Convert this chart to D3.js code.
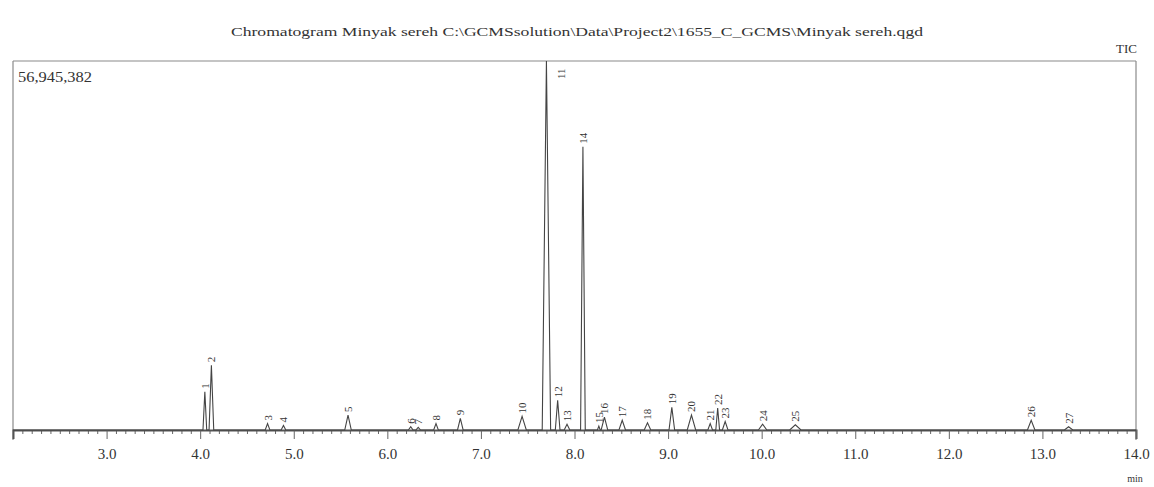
<!DOCTYPE html>
<html><head><meta charset="utf-8">
<script src="https://cdn.jsdelivr.net/npm/d3@7"></script>
<style>body{margin:0;background:#fff}svg{display:block}text{font-family:"Liberation Serif","Times New Roman",serif;fill:#333}</style>
</head><body>
<svg id="c" width="1154" height="487"></svg>
<script>
const titleText = "Chromatogram Minyak sereh C:\\GCMSsolution\\Data\\Project2\\1655_C_GCMS\\Minyak sereh.qgd";
const traceName = "TIC";
const maxIntensity = 56945382;
const timeDomain = [2, 14];
const majorTicks = [3, 4, 5, 6, 7, 8, 9, 10, 11, 12, 13, 14];
const peakIds = [1,2,3,4,5,6,7,8,9,10,11,12,13,14,15,16,17,18,19,20,21,22,23,24,25,26,27];
const retentionTimes = [4.05,4.12,4.72,4.89,5.58,6.25,6.33,6.52,6.78,7.44,7.70,7.82,7.92,8.09,8.26,8.32,8.51,8.78,9.04,9.25,9.45,9.53,9.61,10.01,10.36,12.88,13.28];
// peak heights in millions of counts
const peakHeights = [5.9,10.0,1.0,0.7,2.3,0.5,0.4,1.0,1.8,2.1,56.95,4.6,0.9,43.7,0.6,2.0,1.5,1.1,3.5,2.3,1.0,3.4,1.3,0.9,0.8,1.5,0.5];
// peak base widths in minutes
const peakWidths = [0.04,0.05,0.05,0.05,0.07,0.05,0.05,0.05,0.06,0.09,0.09,0.05,0.06,0.05,0.03,0.07,0.07,0.07,0.06,0.09,0.05,0.04,0.06,0.09,0.12,0.08,0.09];

(function () {
const svg = d3.select("#c");
const pLeft = 13, pRight = 1136, pTop = 61, pBase = 430;
const x = d3.scaleLinear().domain(timeDomain).range([pLeft, pRight]);
const y = d3.scaleLinear().domain([0, maxIntensity / 1e6]).range([pBase, pTop]);

// title
svg.append("text").attr("x", 577).attr("y", 36).attr("text-anchor", "middle")
  .attr("font-size", 13).attr("textLength", 692).attr("lengthAdjust", "spacingAndGlyphs")
  .text(titleText);
svg.append("text").attr("x", 1137).attr("y", 53).attr("text-anchor", "end")
  .attr("font-size", 13).text(traceName);
svg.append("text").attr("x", 18).attr("y", 82).attr("font-size", 15)
  .attr("textLength", 74).attr("lengthAdjust", "spacingAndGlyphs")
  .text(d3.format(",")(maxIntensity));

// frame
const frame = svg.append("g").attr("stroke", "#8a8a8a").attr("fill", "none").attr("stroke-width", 1.2);
frame.append("line").attr("x1", pLeft).attr("x2", pRight).attr("y1", pTop).attr("y2", pTop);
frame.append("line").attr("x1", pLeft).attr("x2", pLeft).attr("y1", pTop).attr("y2", pBase + 10);
frame.append("line").attr("x1", pRight).attr("x2", pRight).attr("y1", pTop).attr("y2", pBase + 10);

// x axis
const minorTicks = d3.range(21, 140).map(d => d / 10).filter(d => Math.abs(d - Math.round(d)) > 1e-6);
svg.append("g").attr("transform", `translate(0,${pBase})`)
  .call(d3.axisBottom(x).tickValues(minorTicks).tickSize(4).tickFormat(""))
  .call(g => g.select(".domain").remove())
  .call(g => g.selectAll("line").attr("stroke", "#666"));
const ax = svg.append("g").attr("transform", `translate(0,${pBase})`)
  .call(d3.axisBottom(x).tickValues(majorTicks).tickSize(9).tickPadding(9).tickFormat(d3.format(".1f")));
ax.select(".domain").attr("stroke", "#555").attr("stroke-width", 2);
ax.selectAll("line").attr("stroke", "#666");
ax.selectAll("text").attr("font-size", 15).attr("fill", "#333")
  .style("font-family", '"Liberation Serif",serif');
svg.append("text").attr("x", 1135).attr("y", 482).attr("text-anchor", "middle")
  .attr("font-size", 10).text("min");

// trace
const peaks = peakIds.map((id, i) => ({id, t: retentionTimes[i], h: peakHeights[i], w: peakWidths[i]}));
const pts = [[timeDomain[0], 0]];
peaks.forEach(p => { pts.push([p.t - p.w / 2, 0], [p.t, p.h], [p.t + p.w / 2, 0]); });
pts.push([timeDomain[1], 0]);
svg.append("path").datum(pts)
  .attr("d", d3.line().x(d => x(d[0])).y(d => y(d[1])))
  .attr("fill", "none").attr("stroke", "#444").attr("stroke-width", 1.1);

// peak labels
svg.append("g").selectAll("text").data(peaks).join("text")
  .attr("transform", p => {
    const py = y(p.h);
    if (py < pTop + 20) return `translate(${x(p.t) + 15},${pTop + 18}) rotate(-90)`;
    return `translate(${x(p.t)},${py - 3}) rotate(-90)`;
  })
  .attr("dominant-baseline", "central").attr("font-size", 11).text(p => p.id);
})();
</script>
</body></html>
